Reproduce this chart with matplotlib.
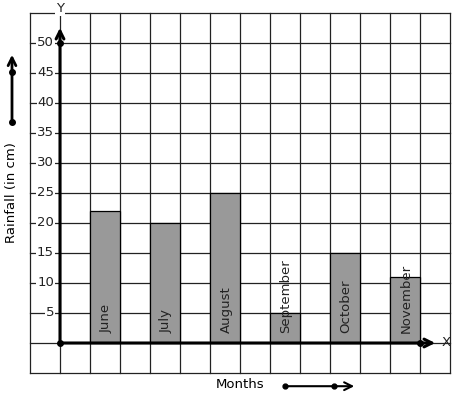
import matplotlib
matplotlib.use("Agg")
import matplotlib.pyplot as plt

months = ["June", "July", "August", "September", "October", "November"]
rainfall = [22, 20, 25, 5, 15, 11]
yticks = [5, 10, 15, 20, 25, 30, 35, 40, 45, 50]

fig = plt.figure(figsize=(4.57, 3.99), dpi=100)
ax = fig.add_axes([0, 0, 1, 1])
ax.set_xlim(-2, (457 - 60) / 30)
ax.set_ylim((343 - 399) / 6, 343 / 6)
ax.axis("off")

# grid
for u in range(-1, 14):
    ax.plot([u, u], [-5, 55], color="#222222", lw=0.9, zorder=1)
for v in range(-5, 56, 5):
    ax.plot([-1, 13], [v, v], color="#222222", lw=0.9, zorder=1)

# bars
xs = [1.5 + 2 * i for i in range(len(months))]
ax.bar(xs, rainfall, width=1, color="#999999", edgecolor="black", linewidth=0.9, zorder=2)
for x, m in zip(xs, months):
    ax.text(x + 0.03, 1.6, m, rotation=90, ha="center", va="bottom", fontsize=9.5,
            color="#222222", zorder=5)

# axes arrows
ax.annotate("", xy=(0, 53.0), xytext=(0, 0),
            arrowprops=dict(arrowstyle="->", lw=2.2, color="black", mutation_scale=14), zorder=4)
ax.annotate("", xy=(12.6, 0), xytext=(0, 0),
            arrowprops=dict(arrowstyle="->", lw=2.2, color="black", mutation_scale=14), zorder=4)
ax.plot([0, 0, 12], [0, 50, 0], "o", color="black", ms=4, zorder=5)

# tick labels
for t in yticks:
    ax.text(-0.2, t, str(t), ha="right", va="center", fontsize=9.5, color="#222222",
            bbox=dict(boxstyle="square,pad=0.05", fc="white", ec="none"), zorder=3)

ax.text(0, 55.8, "Y", ha="center", va="center", fontsize=9.5, color="#222222",
        bbox=dict(boxstyle="square,pad=0.1", fc="white", ec="none"), zorder=3)
ax.text(12.72, 0, "X", ha="left", va="center", fontsize=9.5, color="#222222", zorder=3)

# side label and arrows
ax.text(-1.6, 25.0, "Rainfall (in cm)", rotation=90, ha="center", va="center", fontsize=9.5)
ax.annotate("", xy=(-1.6, 48.5), xytext=(-1.6, 36.8),
            arrowprops=dict(arrowstyle="->", lw=2, color="black", mutation_scale=14))
ax.plot([-1.6, -1.6], [36.8, 45.2], "o", color="black", ms=4)

ax.text(6, -7.0, "Months", ha="center", va="center", fontsize=9.5)
ax.annotate("", xy=(9.9, -7.2), xytext=(7.5, -7.2),
            arrowprops=dict(arrowstyle="->", lw=1.5, color="black", mutation_scale=14))
ax.plot([7.5, 9.13], [-7.2, -7.2], "o", color="black", ms=3.5)

fig.savefig("out.png", dpi=100)
